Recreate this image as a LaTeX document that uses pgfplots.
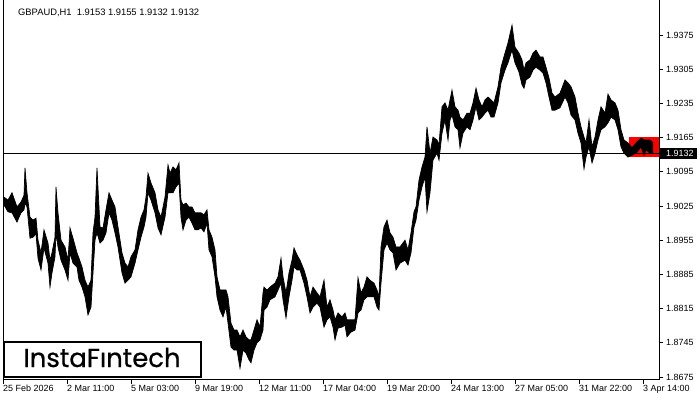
\documentclass[border=0pt]{standalone}
\usepackage{pgfplots}
\pgfplotsset{compat=1.18}
\usepgfplotslibrary{fillbetween}
\usepackage{pgfplotstable}
\usepackage{fontspec}
\setmainfont{Liberation Sans}
\newfontfamily\logofont{Poppins}[FakeBold=0.7]

\pgfplotstableread{
x h l
1 1.9043 1.9027
5 1.9037 1.9013
9 1.9052 1.9011
14 1.9023 1.8992
18 1.9033 1.9011
21 1.9047 1.9017
22 1.9103 1.9031
24 1.9052 1.9023
27 1.9002 1.8959
30 1.8996 1.8961
33 1.9000 1.8968
35 1.8955 1.8918
38 1.8929 1.8894
41 1.8976 1.8939
45 1.8949 1.8908
47 1.8914 1.8859
49 1.8929 1.8888
52 1.8961 1.8921
53 1.9064 1.8970
55 1.9011 1.8941
58 1.8955 1.8914
62 1.8941 1.8894
65 1.8914 1.8873
67 1.8980 1.8929
70 1.8959 1.8908
74 1.8929 1.8900
76 1.8918 1.8873
79 1.8900 1.8859
82 1.8873 1.8839
85 1.8859 1.8802
88 1.8873 1.8818
90 1.8970 1.8888
92 1.9002 1.8955
94 1.9103 1.8970
97 1.8982 1.8949
100 1.8980 1.8955
103 1.9017 1.8970
106 1.9052 1.9011
109 1.9037 1.8996
112 1.9023 1.8970
115 1.8982 1.8941
119 1.8929 1.8888
122 1.8908 1.8867
125 1.8900 1.8873
128 1.8921 1.8880
132 1.8935 1.8908
135 1.8976 1.8935
138 1.9002 1.8961
141 1.9017 1.8982
143 1.9043 1.9002
145 1.9092 1.9052
148 1.9072 1.9037
152 1.9052 1.9011
155 1.9017 1.8980
158 1.9002 1.8966
162 1.9043 1.9002
165 1.9109 1.9052
167 1.9092 1.9052
170 1.9105 1.9052
173 1.9099 1.9064
176 1.9113 1.9072
178 1.9037 1.9002
180 1.9027 1.8976
183 1.9031 1.8996
186 1.9023 1.9002
189 1.9023 1.8990
192 1.9011 1.8976
195 1.9011 1.8976
198 1.9011 1.8980
201 1.9007 1.8972
204 1.9017 1.8990
206 1.8976 1.8935
209 1.8961 1.8921
212 1.8935 1.8880
214 1.8880 1.8839
217 1.8853 1.8812
220 1.8853 1.8798
223 1.8853 1.8818
225 1.8839 1.8785
228 1.8785 1.8736
231 1.8771 1.8730
234 1.8771 1.8730
237 1.8757 1.8693
240 1.8771 1.8730
243 1.8757 1.8724
246 1.8751 1.8710
248 1.8751 1.8704
251 1.8771 1.8730
254 1.8792 1.8745
257 1.8777 1.8751
260 1.8847 1.8771
261 1.8859 1.8812
264 1.8853 1.8818
267 1.8859 1.8833
272 1.8867 1.8839
275 1.8880 1.8853
278 1.8918 1.8867
280 1.8880 1.8833
283 1.8847 1.8796
286 1.8888 1.8839
289 1.8914 1.8873
291 1.8939 1.8900
294 1.8925 1.8894
297 1.8914 1.8894
301 1.8894 1.8867
304 1.8873 1.8839
307 1.8839 1.8806
310 1.8859 1.8818
314 1.8847 1.8826
317 1.8839 1.8818
321 1.8873 1.8777
324 1.8818 1.8792
327 1.8833 1.8798
330 1.8812 1.8777
332 1.8792 1.8751
335 1.8806 1.8775
339 1.8798 1.8777
342 1.8806 1.8781
344 1.8792 1.8757
348 1.8792 1.8767
352 1.8792 1.8771
355 1.8878 1.8806
358 1.8847 1.8812
361 1.8859 1.8833
364 1.8880 1.8839
367 1.8873 1.8839
371 1.8867 1.8839
374 1.8853 1.8818
376 1.8839 1.8812
378 1.8941 1.8867
381 1.8982 1.8935
384 1.8996 1.8949
387 1.8970 1.8935
390 1.8961 1.8929
393 1.8941 1.8894
397 1.8941 1.8908
402 1.8955 1.8914
405 1.8935 1.8904
408 1.8970 1.8929
411 1.9013 1.8982
413 1.9023 1.8996
416 1.9078 1.9037
419 1.9105 1.9064
422 1.9125 1.9084
424 1.9187 1.9013
427 1.9133 1.9052
430 1.9166 1.9119
434 1.9160 1.9133
436 1.9150 1.9119
439 1.9228 1.9174
442 1.9236 1.9201
445 1.9221 1.9160
447 1.9242 1.9201
449 1.9262 1.9211
452 1.9228 1.9187
455 1.9221 1.9181
457 1.9207 1.9144
460 1.9201 1.9174
464 1.9215 1.9187
467 1.9215 1.9181
470 1.9236 1.9201
473 1.9266 1.9228
476 1.9242 1.9201
479 1.9228 1.9207
482 1.9242 1.9215
485 1.9248 1.9221
488 1.9242 1.9207
491 1.9236 1.9207
495 1.9269 1.9236
498 1.9309 1.9277
502 1.9338 1.9303
505 1.9359 1.9318
509 1.9395 1.9344
512 1.9350 1.9318
516 1.9338 1.9299
519 1.9324 1.9273
521 1.9303 1.9266
523 1.9318 1.9283
527 1.9324 1.9289
530 1.9338 1.9303
533 1.9344 1.9309
537 1.9330 1.9303
540 1.9330 1.9297
543 1.9309 1.9277
546 1.9287 1.9248
549 1.9256 1.9221
552 1.9248 1.9221
557 1.9256 1.9226
562 1.9283 1.9248
565 1.9277 1.9236
568 1.9269 1.9211
572 1.9248 1.9201
575 1.9215 1.9174
578 1.9187 1.9154
581 1.9166 1.9101
583 1.9154 1.9125
586 1.9201 1.9146
589 1.9146 1.9113
592 1.9166 1.9133
595 1.9201 1.9160
598 1.9228 1.9181
602 1.9215 1.9187
605 1.9254 1.9195
608 1.9242 1.9207
612 1.9236 1.9201
615 1.9221 1.9181
618 1.9181 1.9146
621 1.9160 1.9133
625 1.9154 1.9125
629 1.9144 1.9129
634 1.9156 1.9135
638 1.9164 1.9146
641 1.9160 1.9129
643 1.9160 1.9140
647 1.9160 1.9133
650 1.9154 1.9133
}\price

\begin{document}
\begin{tikzpicture}
\begin{axis}[
  at={(3bp,20bp)}, anchor=south west,
  scale only axis, width=656bp, height=381bp,
  xmin=0, xmax=656, ymin=1.866874, ymax=1.944865,
  no markers,
  axis line style={line width=1bp},
  clip=false,
  xtick={0,64,128,192,256,320,384,448,512,576,640},
  xticklabels={25 Feb 2026,2 Mar 11:00,5 Mar 03:00,9 Mar 19:00,12 Mar 11:00,17 Mar 04:00,19 Mar 20:00,24 Mar 13:00,27 Mar 05:00,31 Mar 22:00,3 Apr 14:00},
  ytick={1.8675,1.8745,1.8815,1.8885,1.8955,1.9025,1.9095,1.9165,1.9235,1.9305,1.9375},
  yticklabels={1.8675,1.8745,1.8815,1.8885,1.8955,1.9025,1.9095,1.9165,1.9235,1.9305,1.9375},
  xtick pos=bottom, ytick pos=right, yticklabel pos=right,
  tick align=outside,
  major tick length=4bp,
  tick style={black, line width=0.8bp},
  tick label style={font=\fontsize{9}{10}\selectfont, inner sep=0pt},
  xticklabel style={anchor=north west, xshift=0bp, yshift=-1bp},
  yticklabel style={anchor=west, xshift=3bp},
]
\addplot[fill=red, draw=none, forget plot] coordinates {(626,1.91252) (656,1.91252) (656,1.91662) (626,1.91662)} -- cycle;
\addplot[black, line width=1bp, forget plot] coordinates {(0,1.9132) (656,1.9132)};
\addplot[name path=H, draw=black, line width=0.7bp, forget plot] table[x=x,y=h]{\price};
\addplot[name path=L, draw=black, line width=0.7bp, forget plot] table[x=x,y=l]{\price};
\addplot[black, forget plot] fill between[of=H and L, on layer=main];
\fill[black] ([xshift=1bp,yshift=-5.5bp]axis cs:656,1.9132) rectangle ++(37bp,11bp);
\node[anchor=west, text=white, inner sep=0pt, font=\fontsize{9}{10}\selectfont] at ([xshift=7bp]axis cs:656,1.9132) {1.9132};
\end{axis}
\node[anchor=base west, inner sep=0pt, font=\fontsize{9.4}{10}\selectfont] at (18bp,384bp) {GBPAUD,H1\ \ 1.9153 1.9155 1.9132 1.9132};
\draw[line width=2bp, fill=white] (4bp,23bp) rectangle (201bp,58bp);
\node[anchor=base, inner sep=0pt, font=\logofont\fontsize{26}{28}\selectfont] at (102bp,33bp) {InstaFıntech};
\pgfresetboundingbox
\useasboundingbox (0,0) rectangle (700bp,400bp);
\end{tikzpicture}
\end{document}
